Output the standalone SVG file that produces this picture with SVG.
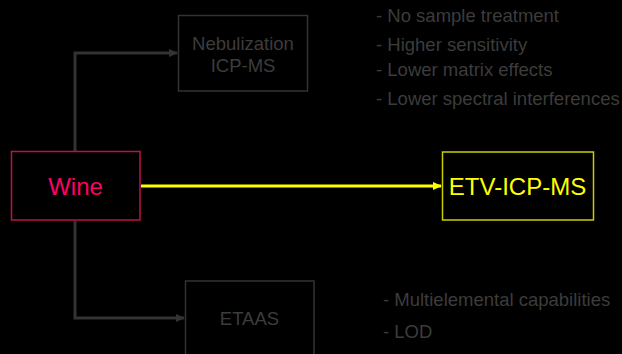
<svg xmlns="http://www.w3.org/2000/svg" width="622" height="354" viewBox="0 0 622 354">
  <style>
    text { font-family: "Liberation Sans", Arial, sans-serif; }
    .dim { fill: none; stroke: #333333; stroke-width: 1.5; }
    .dimtxt { fill: #3c3c3c; font-size: 18.5px; }
    .link { fill: none; stroke: #333333; stroke-width: 3; }
  </style>
  <defs>
    <marker id="arrGrey" markerWidth="10" markerHeight="10" refX="8" refY="5" orient="auto" markerUnits="userSpaceOnUse">
      <path d="M0,1 L9,5 L0,9 Z" fill="#333333"/>
    </marker>
    <marker id="arrYellow" markerWidth="10" markerHeight="10" refX="8" refY="5" orient="auto" markerUnits="userSpaceOnUse">
      <path d="M0,1 L9,5 L0,9 Z" fill="#ffff00"/>
    </marker>
  </defs>
  <rect x="0" y="0" width="622" height="354" fill="#000000"/>

  <g id="connectors">
    <polyline class="link" points="75,151 75,53 177,53" marker-end="url(#arrGrey)"/>
    <polyline class="link" points="75,221 75,318 184,318" marker-end="url(#arrGrey)"/>
    <line x1="141" y1="186" x2="441" y2="186" stroke="#ffff00" stroke-width="3" marker-end="url(#arrYellow)"/>
  </g>

  <g id="wine">
    <rect x="11.5" y="151.5" width="128.5" height="68.5" fill="none" stroke="#c0104a" stroke-width="1.5"/>
    <text x="75.5" y="195" font-size="24" fill="#ff0066" text-anchor="middle">Wine</text>
  </g>

  <g id="nebulization">
    <rect class="dim" x="178.5" y="15.5" width="129" height="75.5"/>
    <text class="dimtxt" x="243" y="50" text-anchor="middle">Nebulization</text>
    <text class="dimtxt" x="243" y="72" text-anchor="middle">ICP-MS</text>
  </g>

  <g id="etv">
    <rect x="442.5" y="152" width="151" height="68" fill="none" stroke="#cccc00" stroke-width="1.5"/>
    <text x="517.5" y="195" font-size="24" fill="#ffff00" text-anchor="middle">ETV-ICP-MS</text>
  </g>

  <g id="etaas">
    <rect class="dim" x="185.5" y="281" width="128.5" height="80"/>
    <text class="dimtxt" x="249.5" y="325" text-anchor="middle">ETAAS</text>
  </g>

  <g id="notes">
    <text class="dimtxt" x="376" y="22">- No sample treatment</text>
    <text class="dimtxt" x="376" y="51">- Higher sensitivity</text>
    <text class="dimtxt" x="376" y="76">- Lower matrix effects</text>
    <text class="dimtxt" x="376" y="105">- Lower spectral interferences</text>
    <text class="dimtxt" x="383" y="306">- Multielemental capabilities</text>
    <text class="dimtxt" x="383" y="338">- LOD</text>
  </g>
</svg>
